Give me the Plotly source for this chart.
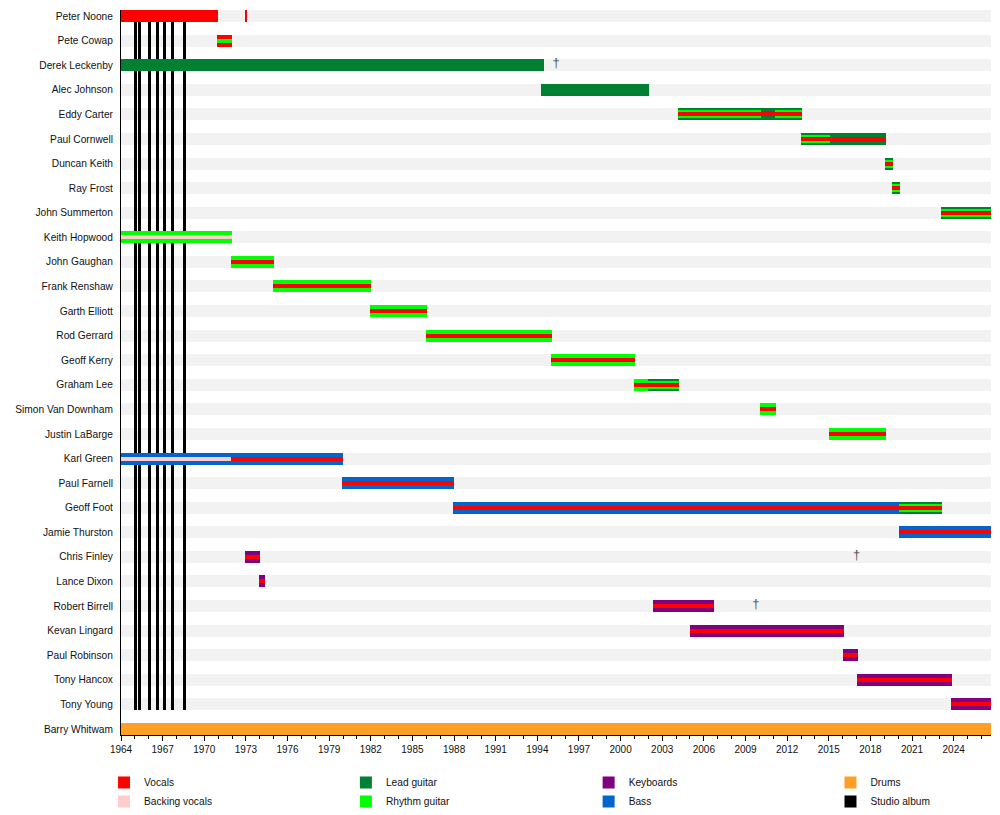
import plotly.graph_objects as go

END = 2026.69

members = ["Peter Noone", "Pete Cowap", "Derek Leckenby", "Alec Johnson", "Eddy Carter",
           "Paul Cornwell", "Duncan Keith", "Ray Frost", "John Summerton", "Keith Hopwood",
           "John Gaughan", "Frank Renshaw", "Garth Elliott", "Rod Gerrard", "Geoff Kerry",
           "Graham Lee", "Simon Van Downham", "Justin LaBarge", "Karl Green", "Paul Farnell",
           "Geoff Foot", "Jamie Thurston", "Chris Finley", "Lance Dixon", "Robert Birrell",
           "Kevan Lingard", "Paul Robinson", "Tony Hancox", "Tony Young", "Barry Whitwam"]

# main role of each stint (member, from, till, role)
main_roles = [
    ("Peter Noone", 1964.0, 1971.0, "Vocals"),
    ("Peter Noone", 1972.95, 1973.09, "Vocals"),
    ("Pete Cowap", 1970.92, 1972.0, "Vocals"),
    ("Derek Leckenby", 1964.0, 1994.48, "Lead guitar"),
    ("Alec Johnson", 1994.26, 2002.05, "Lead guitar"),
    ("Eddy Carter", 2004.14, 2013.07, "Lead guitar"),
    ("Paul Cornwell", 2013.0, 2019.1, "Lead guitar"),
    ("Duncan Keith", 2019.05, 2019.63, "Lead guitar"),
    ("Ray Frost", 2019.56, 2020.13, "Lead guitar"),
    ("John Summerton", 2023.09, END, "Lead guitar"),
    ("Keith Hopwood", 1964.0, 1972.0, "Rhythm guitar"),
    ("John Gaughan", 1971.93, 1975.02, "Rhythm guitar"),
    ("Frank Renshaw", 1974.95, 1982.0, "Rhythm guitar"),
    ("Garth Elliott", 1981.94, 1986.05, "Rhythm guitar"),
    ("Rod Gerrard", 1985.98, 1995.06, "Rhythm guitar"),
    ("Geoff Kerry", 1994.98, 2001.04, "Rhythm guitar"),
    ("Graham Lee", 2000.96, 2001.97, "Rhythm guitar"),
    ("Graham Lee", 2001.97, 2004.2, "Lead guitar"),
    ("Simon Van Downham", 2010.04, 2011.2, "Rhythm guitar"),
    ("Justin LaBarge", 2015.0, 2019.1, "Rhythm guitar"),
    ("Karl Green", 1964.0, 1980.0, "Bass"),
    ("Paul Farnell", 1979.93, 1988.0, "Bass"),
    ("Geoff Foot", 1987.95, 2020.06, "Bass"),
    ("Geoff Foot", 2020.06, 2023.16, "Lead guitar"),
    ("Jamie Thurston", 2020.06, END, "Bass"),
    ("Chris Finley", 1972.94, 1974.0, "Keyboards"),
    ("Lance Dixon", 1973.94, 1974.39, "Keyboards"),
    ("Robert Birrell", 2002.34, 2006.71, "Keyboards"),
    ("Kevan Lingard", 2005.01, 2016.1, "Keyboards"),
    ("Paul Robinson", 2016.02, 2017.1, "Keyboards"),
    ("Tony Hancox", 2017.03, 2023.88, "Keyboards"),
    ("Tony Young", 2023.8, END, "Keyboards"),
    ("Barry Whitwam", 1964.0, END, "Drums"),
]

# second role
second_roles = [
    ("Eddy Carter", 2004.14, 2010.1, "Rhythm guitar"),
    ("Eddy Carter", 2011.1, 2013.07, "Rhythm guitar"),
    ("Paul Cornwell", 2013.0, 2015.1, "Rhythm guitar"),
    ("Duncan Keith", 2019.05, 2019.63, "Rhythm guitar"),
    ("Ray Frost", 2019.56, 2020.13, "Rhythm guitar"),
    ("John Summerton", 2023.09, END, "Rhythm guitar"),
    ("Graham Lee", 2001.97, 2004.2, "Rhythm guitar"),
    ("Geoff Foot", 2020.06, 2023.16, "Rhythm guitar"),
]

# third role
third_roles = [
    ("Pete Cowap", 1970.92, 1972.0, "Rhythm guitar"),
    ("Eddy Carter", 2004.14, 2013.07, "Vocals"),
    ("Paul Cornwell", 2013.0, 2019.1, "Vocals"),
    ("Duncan Keith", 2019.05, 2019.63, "Vocals"),
    ("Ray Frost", 2019.56, 2020.13, "Vocals"),
    ("John Summerton", 2023.09, END, "Vocals"),
    ("Keith Hopwood", 1964.0, 1972.0, "Backing vocals"),
    ("John Gaughan", 1971.93, 1975.02, "Vocals"),
    ("Frank Renshaw", 1974.95, 1982.0, "Vocals"),
    ("Garth Elliott", 1981.94, 1986.05, "Vocals"),
    ("Rod Gerrard", 1985.98, 1995.06, "Vocals"),
    ("Geoff Kerry", 1994.98, 2001.04, "Vocals"),
    ("Graham Lee", 2000.96, 2004.2, "Vocals"),
    ("Simon Van Downham", 2010.04, 2011.2, "Vocals"),
    ("Justin LaBarge", 2015.0, 2019.1, "Vocals"),
    ("Karl Green", 1964.0, 1971.93, "Backing vocals"),
    ("Karl Green", 1971.93, 1980.0, "Vocals"),
    ("Paul Farnell", 1979.93, 1988.0, "Vocals"),
    ("Geoff Foot", 1987.95, 2023.16, "Vocals"),
    ("Jamie Thurston", 2020.06, END, "Vocals"),
    ("Chris Finley", 1972.94, 1974.0, "Vocals"),
    ("Lance Dixon", 1973.94, 1974.39, "Vocals"),
    ("Robert Birrell", 2002.34, 2006.71, "Vocals"),
    ("Kevan Lingard", 2005.01, 2016.1, "Vocals"),
    ("Paul Robinson", 2016.02, 2017.1, "Vocals"),
    ("Tony Hancox", 2017.03, 2023.88, "Vocals"),
    ("Tony Young", 2023.8, END, "Vocals"),
]

albums = [1965.03, 1965.32, 1966.07, 1966.62, 1967.12, 1967.68, 1968.54]

deaths_member = ["Derek Leckenby", "Robert Birrell", "Chris Finley"]
deaths_year = [1995.35, 2009.74, 2017.0]

colors = {
    "Vocals": "#FF0000",
    "Backing vocals": "#FFCCCC",
    "Lead guitar": "#008033",
    "Rhythm guitar": "#00FF00",
    "Keyboards": "#800080",
    "Bass": "#0066CC",
    "Drums": "#FF9F26",
}
legend_of = {"Vocals": "legend", "Backing vocals": "legend",
             "Lead guitar": "legend2", "Rhythm guitar": "legend2",
             "Keyboards": "legend3", "Bass": "legend3", "Drums": "legend4"}
rank_of = {"Vocals": 1, "Backing vocals": 2, "Lead guitar": 3, "Rhythm guitar": 4,
           "Keyboards": 5, "Bass": 6, "Drums": 7}

n = len(members)
row = {m: i for i, m in enumerate(members)}
px_per_row = 725 / (n - 1 + 12 / 24.6)
half = 6 / px_per_row

fig = go.Figure()

# light grey lanes
fig.add_trace(go.Bar(orientation="h", y=list(range(n)), x=[END - 1964] * n, base=[1964] * n,
                     width=12 / px_per_row, marker=dict(color="#F2F2F2", line_width=0),
                     showlegend=False, hoverinfo="skip"))

# studio albums
fig.add_trace(go.Bar(orientation="v", x=albums, y=[(n - 2) + 2 * half] * len(albums),
                     base=[-half] * len(albums), width=3 / 13.878,
                     marker=dict(color="black", line_width=0), name="Studio album",
                     legend="legend4", legendrank=8, hoverinfo="skip"))

shown = set()
for stints, h in [(main_roles, 12), (second_roles, 8), (third_roles, 4)]:
    for role in colors:
        sel = [s for s in stints if s[3] == role]
        if not sel:
            continue
        fig.add_trace(go.Bar(
            orientation="h",
            y=[row[s[0]] for s in sel],
            base=[s[1] for s in sel],
            x=[s[2] - s[1] for s in sel],
            width=h / px_per_row,
            marker=dict(color=colors[role], line_width=0),
            name=role, legendgroup=role, legend=legend_of[role],
            legendrank=rank_of[role], showlegend=role not in shown,
            hovertemplate="%{y}<extra>" + role + "</extra>"))
        shown.add(role)

fig.add_trace(go.Scatter(x=deaths_year, y=[row[m] - 0.04 for m in deaths_member],
                         mode="text", text=["†"] * len(deaths_year),
                         textfont=dict(size=13, color="#555555"),
                         showlegend=False, hoverinfo="skip"))

font = dict(family="Liberation Sans, Arial, sans-serif", size=10.2, color="#111111")
tfont = dict(font, size=10)
leg = dict(orientation="v", y=-0.0455, yanchor="top", font=font,
           bgcolor="rgba(0,0,0,0)", tracegroupgap=0, itemclick=False)

fig.update_layout(
    width=1000, height=815,
    margin=dict(l=121, r=9, t=10, b=80, autoexpand=False),
    plot_bgcolor="white", paper_bgcolor="white",
    font=font,
    barmode="overlay", bargap=0,
    xaxis=dict(range=[1964, END], tick0=1964, dtick=3, ticks="outside", ticklen=5,
               tickcolor="black", showline=True, linecolor="black", linewidth=1,
               showgrid=False, zeroline=False, tickfont=tfont, ticklabelstandoff=0,
               minor=dict(dtick=1, ticks="outside", ticklen=3, tickcolor="black")),
    yaxis=dict(range=[n - 1 + half, -half], tickvals=list(range(n)), ticktext=members,
               ticks="", showline=True, linecolor="black", linewidth=1,
               showgrid=False, zeroline=False, tickfont=font, ticklabelstandoff=5),
    legend=dict(leg, x=-0.0195),
    legend2=dict(leg, x=0.2585),
    legend3=dict(leg, x=0.5375),
    legend4=dict(leg, x=0.8155),
)

fig.write_html("out.html", config={"displayModeBar": False},
               post_script="document.body.style.margin='0';")
